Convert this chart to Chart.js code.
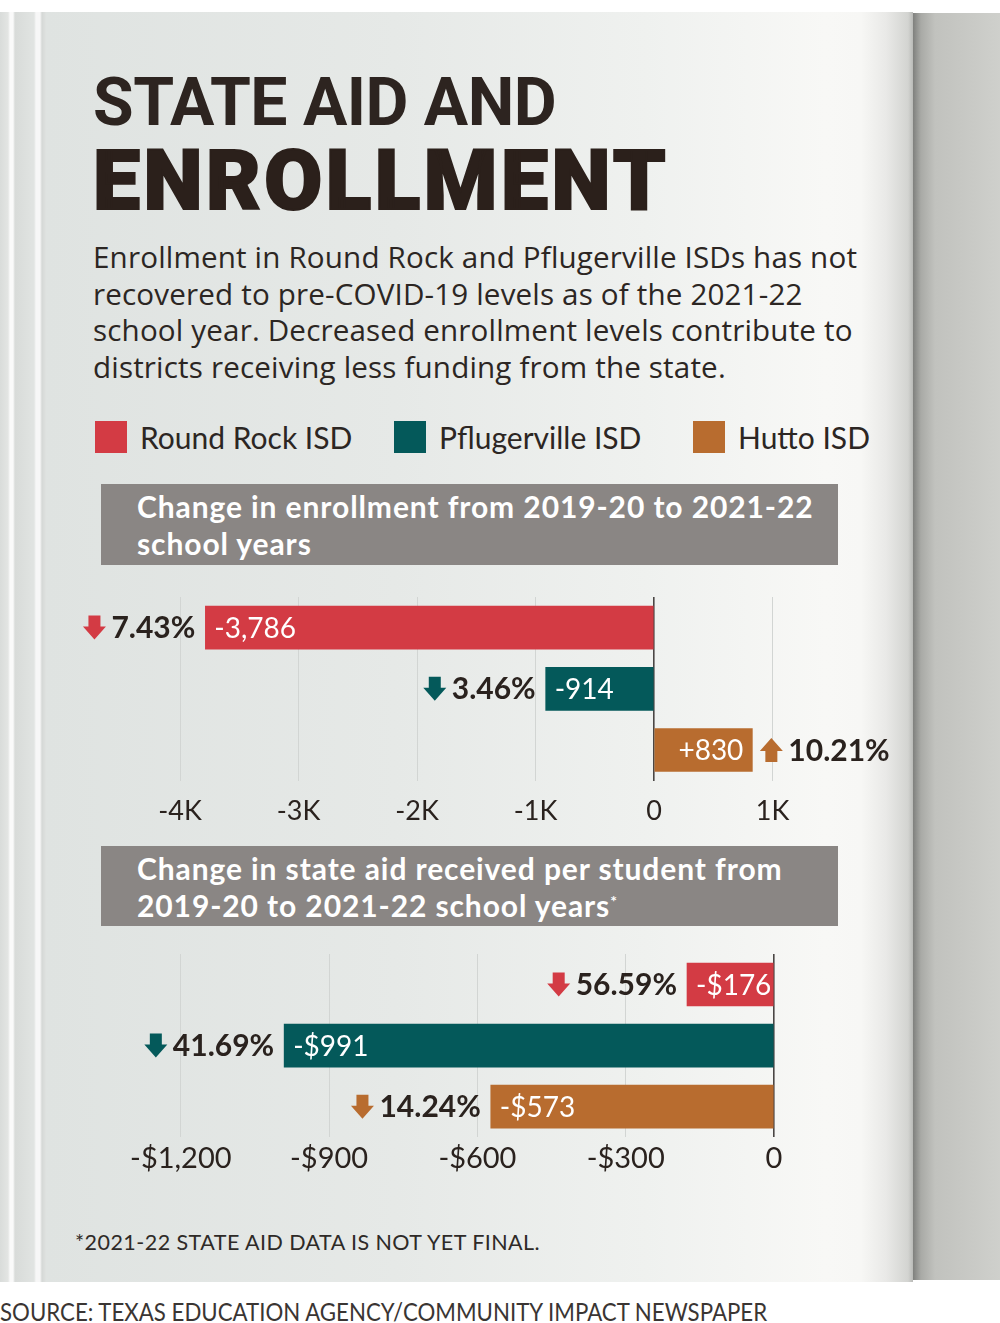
<!DOCTYPE html>
<html>
<head>
<meta charset="utf-8">
<script src="https://cdn.jsdelivr.net/npm/chart.js@4.4.1/dist/chart.umd.min.js"></script>
<style>
  html, body { margin: 0; padding: 0; background: #fff; }
  body { width: 1000px; height: 1323px; position: relative; overflow: hidden; font-family: Lato, 'Noto Sans', sans-serif; }
  .abs { position: absolute; }
  #stack { left: 0; top: 12px; width: 46px; height: 1270px;
    background: linear-gradient(to right, #d9dcda 0, #e3e5e3 8px, #fafafa 10px, #fafafa 13px, #d8dbd9 15px, #e1e4e2 34px, #f7f7f7 36px, #f7f7f7 40px, #d5d8d6 42px, #dfe2e0 46px); }
  #page { left: 46px; top: 12px; width: 867px; height: 1270px;
    background: linear-gradient(to right, #dfe3e1 0, #e6e9e7 350px, #eff1ef 600px, #f8f8f6 780px, #f7f7f5 815px, #e9e9e7 840px, #d3d4d1 862px, #b9bab7 867px); }
  #back { left: 913px; top: 13px; width: 87px; height: 1267px;
    background: linear-gradient(to right, #7f807d 0, #a9aaa6 8px, #c1c2be 22px, #c9cac6 60px, #cfd0cc 87px); }
  .title1 { left: 93px; top: 70px; font: 700 66px Roboto, sans-serif; color: #2d2420; letter-spacing: -0.5px; white-space: nowrap; line-height: 66px; }
  .title2 { left: 93px; top: 139px; font: 900 84px Roboto, sans-serif; color: #2b201b; letter-spacing: 3.5px; -webkit-text-stroke: 2px #2b201b; white-space: nowrap; line-height: 84px; }
  .intro { left: 93px; top: 239px; font: 400 29.6px 'Open Sans', sans-serif; letter-spacing: 0.16px; line-height: 36.6px; color: #2c2623; white-space: nowrap; }
  #legend { left: 95px; top: 419px; display: flex; }
  .item { width: 299px; display: flex; align-items: center; font: 400 30px Lato, sans-serif; color: #2c2623; }
  .swatch { width: 32px; height: 32px; margin-right: 13px; }
  .bar-title { left: 101px; width: 737px; background: #8a8684; color: #fff; font: 700 30px Lato, sans-serif; letter-spacing: 0.9px; line-height: 37px; box-sizing: border-box; padding: 4px 0 0 36px; white-space: nowrap; }
  .star { font-size: 16px; position: relative; top: -10px; line-height: 0; }
  .foot { left: 75px; top: 1229px; font: 400 21.5px Lato, sans-serif; letter-spacing: 0.45px; color: #2e2a27; white-space: nowrap; }
  .source { left: 0; top: 1296px; font: 400 25px Lato, sans-serif; color: #3a3533; white-space: nowrap; transform: scaleX(0.89); transform-origin: left; }
  canvas { position: absolute; left: 0; }
</style>
</head>
<body>
<div id="stack" class="abs"></div>
<div id="page" class="abs"></div>
<div id="back" class="abs"></div>

<div class="abs title1">STATE AID AND</div>
<div class="abs title2">ENROLLMENT</div>
<div class="abs intro">Enrollment in Round Rock and Pflugerville ISDs has not<br>recovered to pre-COVID-19 levels as of the 2021-22<br>school year. Decreased enrollment levels contribute to<br>districts receiving less funding from the state.</div>
<div id="legend" class="abs"></div>

<div class="abs bar-title" style="top:484px;height:81px;">Change in enrollment from 2019-20 to 2021-22<br>school years</div>
<canvas id="enroll" width="1000" height="275" style="top:570px;width:1000px;height:275px;"></canvas>

<div class="abs bar-title" style="top:846px;height:80px;">Change in state aid received per student from<br>2019-20 to 2021-22 school years<span class="star">*</span></div>
<canvas id="aid" width="1000" height="262" style="top:930px;width:1000px;height:262px;"></canvas>

<div class="abs foot">*2021-22 STATE AID DATA IS NOT YET FINAL.</div>
<div class="abs source">SOURCE: TEXAS EDUCATION AGENCY/COMMUNITY IMPACT NEWSPAPER</div>

<script>
const DISTRICTS = ['Round Rock ISD', 'Pflugerville ISD', 'Hutto ISD'];
const COLORS = ['#d33b44', '#04595a', '#b86c2f'];

const ENROLL_CHANGE = [-3786, -914, 830];
const ENROLL_PCT = [7.43, 3.46, 10.21];
const ENROLL_TICKS = [-4000, -3000, -2000, -1000, 0, 1000];

const AID_CHANGE = [-176, -991, -573];
const AID_PCT = [56.59, 41.69, 14.24];
const AID_TICKS = [-1200, -900, -600, -300, 0];

const INK = '#2a221e';

// legend
const legend = document.getElementById('legend');
DISTRICTS.forEach((name, i) => {
    const item = document.createElement('div');
    item.className = 'item';
    item.innerHTML = '<span class="swatch" style="background:' + COLORS[i] + '"></span>' + name;
    legend.appendChild(item);
});

const drawArrow = (ctx, cx, cy, up, color) => {
    const hw = 11.5, sw = 6, h = 12, split = 1;
    const d = up ? -1 : 1;
    ctx.fillStyle = color;
    ctx.beginPath();
    ctx.moveTo(cx - sw, cy - d * h);
    ctx.lineTo(cx + sw, cy - d * h);
    ctx.lineTo(cx + sw, cy - d * split);
    ctx.lineTo(cx + hw, cy - d * split);
    ctx.lineTo(cx, cy + d * h);
    ctx.lineTo(cx - hw, cy - d * split);
    ctx.lineTo(cx - sw, cy - d * split);
    ctx.closePath();
    ctx.fill();
};

const barLabels = {
    id: 'barLabels',
    afterDatasetsDraw(chart, args, opts) {
        const { ctx } = chart;
        const values = chart.data.datasets[0].data;
        chart.getDatasetMeta(0).data.forEach((bar, i) => {
            const v = values[i];
            const tip = bar.x;
            const y = bar.y;
            const neg = v < 0;
            ctx.save();
            ctx.textBaseline = 'alphabetic';

            ctx.font = '400 28px Lato';
            ctx.fillStyle = '#fff';
            ctx.textAlign = neg ? 'left' : 'right';
            ctx.fillText(opts.format(v), neg ? tip + 9 : tip - 9, y + 10);

            const txt = opts.pct[i].toFixed(2) + '%';
            ctx.font = '700 30px Lato';
            const w = ctx.measureText(txt).width;
            ctx.fillStyle = INK;
            if (neg) {
                ctx.textAlign = 'right';
                ctx.fillText(txt, tip - 10, y + 10.5);
                drawArrow(ctx, tip - 10 - w - 17, y, false, COLORS[i]);
            } else {
                ctx.textAlign = 'left';
                ctx.fillText(txt, tip + 36, y + 10.5);
                drawArrow(ctx, tip + 19, y, true, COLORS[i]);
            }
            ctx.restore();
        });
    },
};

window.initChangeChart = (canvas, { values, pct, ticks, min, max, padding, tickFormat, format, tickPadding, tickSize }) => {
    if (!canvas) {
        return;
    }

    return new Chart(canvas, {
        type: 'bar',
        data: {
            labels: DISTRICTS,
            datasets: [{
                data: values,
                backgroundColor: COLORS,
                borderWidth: 0,
                barThickness: 43,
            }],
        },
        options: {
            indexAxis: 'y',
            responsive: false,
            animation: false,
            layout: { padding },
            plugins: {
                legend: { display: false },
                tooltip: { enabled: false },
                barLabels: { pct, format },
            },
            scales: {
                x: {
                    min,
                    max,
                    afterBuildTicks: (scale) => {
                        scale.ticks = ticks.map((value) => ({ value }));
                    },
                    border: { display: false },
                    grid: {
                        drawTicks: false,
                        color: (c) => (c.tick && c.tick.value === 0 ? '#4a4644' : '#d2d5d3'),
                        lineWidth: (c) => (c.tick && c.tick.value === 0 ? 1.6 : 1),
                    },
                    ticks: {
                        autoSkip: false,
                        maxRotation: 0,
                        padding: tickPadding,
                        color: INK,
                        font: { family: 'Lato', size: tickSize },
                        callback: tickFormat,
                    },
                },
                y: { display: false },
            },
        },
        plugins: [barLabels],
    });
};

initChangeChart(document.getElementById('enroll'), {
    values: ENROLL_CHANGE,
    pct: ENROLL_PCT,
    ticks: ENROLL_TICKS,
    min: -4500,
    max: 1500,
    padding: { left: 120.75, right: 168.25, top: 27, bottom: 4 },
    tickPadding: 14,
    tickSize: 27,
    tickFormat: (v) => (v === 0 ? '0' : v / 1000 + 'K'),
    format: (v) => (v > 0 ? '+' : '') + v.toLocaleString('en-US'),
});

initChangeChart(document.getElementById('aid'), {
    values: AID_CHANGE,
    pct: AID_PCT,
    ticks: AID_TICKS,
    min: -1300,
    max: 0,
    padding: { left: 131.4, right: 226, top: 24, bottom: 12 },
    tickPadding: 4,
    tickSize: 29,
    tickFormat: (v) => (v === 0 ? '0' : '-$' + Math.abs(v).toLocaleString('en-US')),
    format: (v) => (v < 0 ? '-' : '+') + '$' + Math.abs(v).toLocaleString('en-US'),
});
</script>
</body>
</html>
